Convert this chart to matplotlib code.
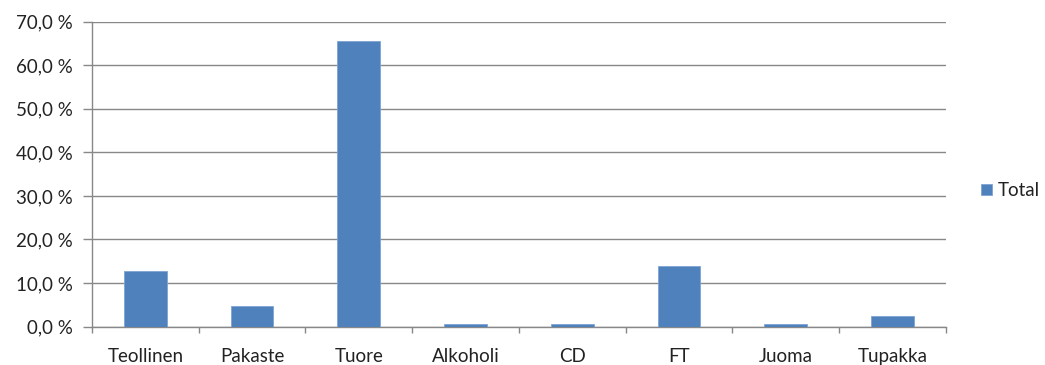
import numpy as np
import matplotlib.pyplot as plt
from matplotlib.ticker import FuncFormatter, FixedLocator

categories = ["Teollinen", "Pakaste", "Tuore", "Alkoholi", "CD", "FT", "Juoma", "Tupakka"]
total_pct = [12.8, 4.7, 65.6, 0.5, 0.5, 13.9, 0.5, 2.4]
y_ticks = [0, 10, 20, 30, 40, 50, 60, 70]

BAR_COLOR = "#4F81BD"
GRID_COLOR = "#888888"
TEXT_COLOR = "#222222"
FONT_SIZE = 13.5

plt.rcParams["font.family"] = ["Lato", "DejaVu Sans"]

fig = plt.figure(figsize=(10.45, 3.65), dpi=100)
ax = fig.add_axes([0.088, 0.105, 0.817, 0.836])

x = np.arange(len(categories))
bars = ax.bar(x, total_pct, width=0.4, color=BAR_COLOR, edgecolor="#7FA3D3",
              linewidth=0.6, label="Total", zorder=3)

ax.set_xlim(-0.5, len(categories) - 0.5)
ax.set_ylim(0, 70)

# y axis: percent labels with a decimal comma
ax.set_yticks(y_ticks)
ax.yaxis.set_major_formatter(FuncFormatter(lambda v, _: f"{v:.1f} %".replace(".", ",")))
ax.yaxis.grid(True, color=GRID_COLOR, linewidth=1.0, zorder=0)
ax.tick_params(axis="y", length=6.5, width=1.0, color=GRID_COLOR, pad=7.5,
               labelsize=FONT_SIZE, labelcolor=TEXT_COLOR)

# x axis: labels centred, tick marks between categories
ax.set_xticks(x)
ax.set_xticklabels(categories)
ax.tick_params(axis="x", which="major", length=0, pad=15, labelsize=FONT_SIZE,
               labelcolor=TEXT_COLOR)
ax.xaxis.set_minor_locator(FixedLocator(np.arange(-0.5, len(categories), 1.0)))
ax.tick_params(axis="x", which="minor", length=4, width=1.0, color=GRID_COLOR)

for side in ("top", "right"):
    ax.spines[side].set_visible(False)
for side in ("left", "bottom"):
    ax.spines[side].set_color(GRID_COLOR)
    ax.spines[side].set_linewidth(1.0)

fig.legend(handles=[bars], labels=["Total"], loc="center left",
           bbox_to_anchor=(0.939, 0.478), frameon=False, fontsize=FONT_SIZE,
           labelcolor=TEXT_COLOR, handlelength=0.55, handleheight=0.55,
           handletextpad=0.35, borderpad=0, borderaxespad=0)

fig.savefig("out.png", dpi=100)
